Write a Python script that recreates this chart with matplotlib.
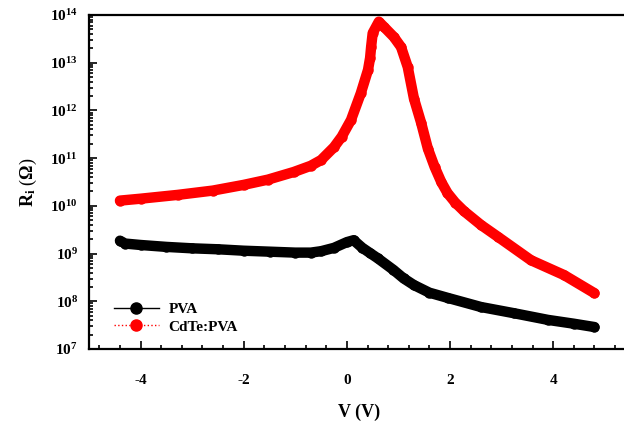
import matplotlib
matplotlib.use("Agg")
import numpy as np
import matplotlib.pyplot as plt
from matplotlib.ticker import MultipleLocator, LogLocator, NullFormatter
from matplotlib.lines import Line2D

plt.rcParams['font.family'] = ['Liberation Serif', 'DejaVu Serif']
plt.rcParams['font.weight'] = 'bold'
plt.rcParams['axes.unicode_minus'] = False
plt.rcParams['mathtext.fontset'] = 'custom'
plt.rcParams['mathtext.rm'] = 'Liberation Serif:bold'
plt.rcParams['mathtext.bf'] = 'Liberation Serif:bold'
plt.rcParams['mathtext.it'] = 'Liberation Serif:bold'

# PVA : voltage (V) and log10 of resistance (Ohm)
v_pva = [-4.4, -4.3, -4.0, -3.5, -3.0, -2.5, -2.0, -1.5, -1.0, -0.7, -0.5, -0.25,
         0.0, 0.13, 0.3, 0.45, 0.6, 0.9, 1.1, 1.3, 1.6, 1.96, 2.6, 3.24,
         3.9, 4.4, 4.8]
logr_pva = [9.27, 9.21, 9.18, 9.14, 9.11, 9.09, 9.06, 9.04, 9.02, 9.02, 9.05, 9.12,
            9.24, 9.28, 9.12, 9.01, 8.90, 8.66, 8.48, 8.34, 8.18, 8.07, 7.88,
            7.75, 7.61, 7.53, 7.46]

# CdTe:PVA
v_cdte = [-4.4, -4.0, -3.28, -2.6, -2.0, -1.53, -1.03, -0.7, -0.5, -0.25, -0.1,
          0.08, 0.27, 0.41, 0.45, 0.47, 0.50, 0.62, 0.72, 0.91, 1.05, 1.18,
          1.3, 1.44, 1.57, 1.70, 1.83, 1.95, 2.1, 2.27, 2.6, 2.93, 3.57, 4.21, 4.8]
logr_cdte = [10.11, 10.15, 10.23, 10.32, 10.44, 10.55, 10.71, 10.84, 10.96, 11.23,
             11.45, 11.80, 12.36, 12.85, 13.10, 13.33, 13.62, 13.86, 13.75,
             13.54, 13.33, 12.91, 12.25, 11.74, 11.20, 10.82, 10.50, 10.27, 10.07,
             9.89, 9.60, 9.35, 8.86, 8.55, 8.17]

r_pva = 10.0 ** np.array(logr_pva)
r_cdte = 10.0 ** np.array(logr_cdte)

fig = plt.figure(figsize=(6.24, 4.21), dpi=100)
ax = fig.add_axes([89 / 624, 72 / 421, 540 / 624, 334 / 421])

ax.plot(v_pva, r_pva, '-', color='black', lw=7.5, solid_capstyle='round',
        solid_joinstyle='round', marker='o', ms=7.5, mew=0)
ax.plot(v_cdte, r_cdte, '-', color='red', lw=7.5, solid_capstyle='round',
        solid_joinstyle='round', marker='o', ms=7.5, mew=0)

ax.set_yscale('log')
ax.set_xlim(-5, 5.47)
ax.set_ylim(1e7, 1e14)

ax.xaxis.set_major_locator(MultipleLocator(2))
ax.xaxis.set_minor_locator(MultipleLocator(0.4))
ax.set_yticks([10.0 ** k for k in range(7, 15)])
ax.set_yticklabels([r'$\mathbf{10^{%d}}$' % k for k in range(7, 15)])
ax.yaxis.set_minor_locator(LogLocator(base=10, subs=np.arange(2, 10)))
ax.yaxis.set_minor_formatter(NullFormatter())

ax.tick_params(which='both', direction='in', top=False, right=False,
               labelsize=11, width=1.2)
ax.tick_params(which='major', length=6, pad=8)
ax.tick_params(which='minor', length=3)
ax.tick_params(axis='x', pad=18)
for s in ax.spines.values():
    s.set_linewidth(1.6)

ax.set_xlabel('V (V)', fontsize=13, fontweight='bold', labelpad=12)
ax.set_ylabel(r'$\mathbf{R_i}$ ($\Omega$)', fontsize=13, labelpad=8)

handles = [Line2D([], [], color='black', lw=1, marker='o', ms=8),
           Line2D([], [], color='red', lw=1, ls=':', marker='o', ms=8)]
ax.legend(handles, ['PVA', 'CdTe:PVA'], loc='lower left', frameon=False,
          fontsize=11, handlelength=3.0, handletextpad=0.6, labelspacing=0.25,
          bbox_to_anchor=(0.02, 0.005))

fig.savefig('out.png', dpi=100)
